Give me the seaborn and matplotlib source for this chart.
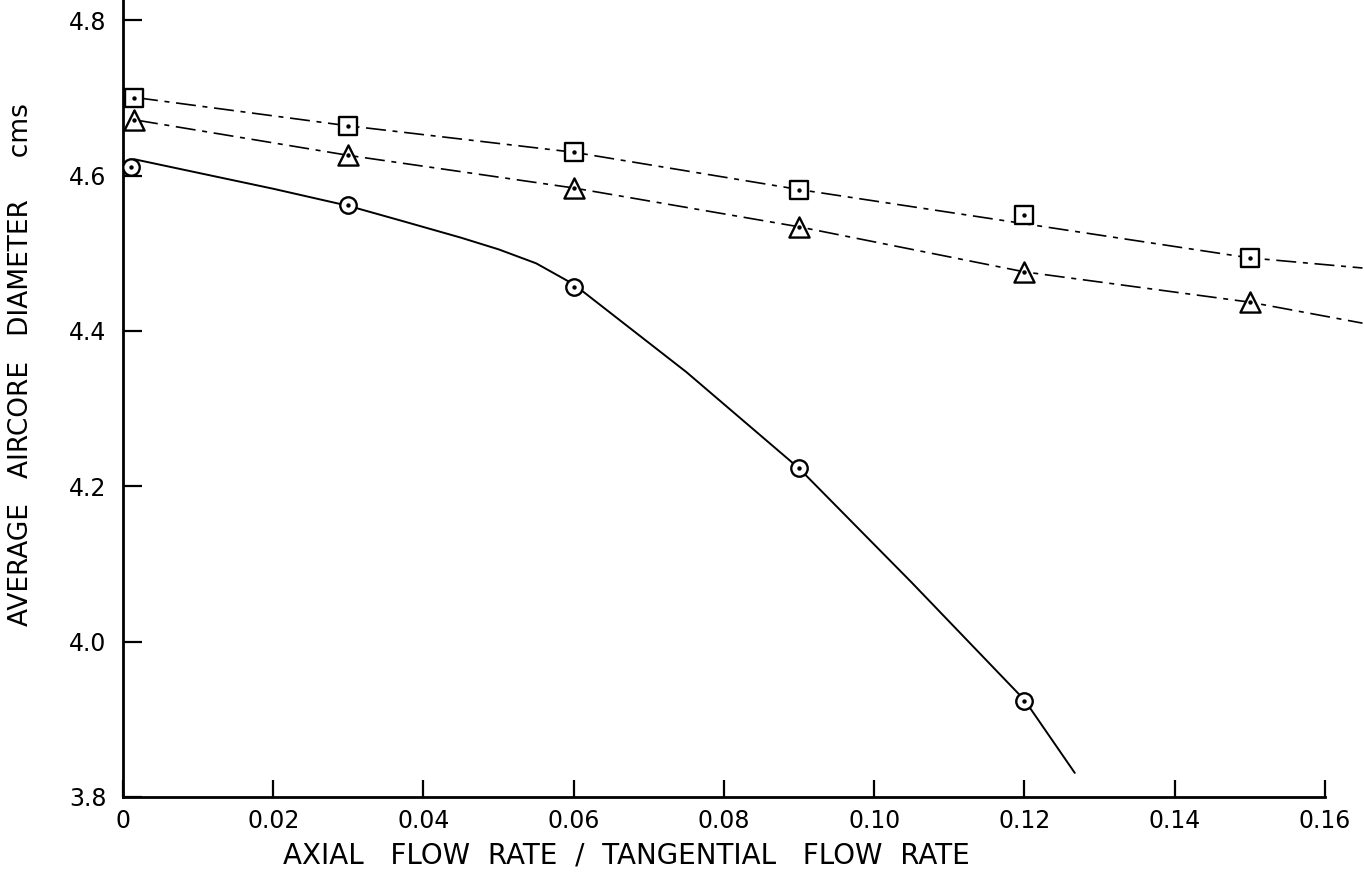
import matplotlib
matplotlib.use("Agg")
import matplotlib.pyplot as plt
import seaborn as sns
import pandas as pd

# measured points (x = axial / tangential flow rate, y = aircore diameter, cms)
sq_x = [0.0015, 0.03, 0.06, 0.09, 0.12, 0.15]
sq_y = [4.700, 4.664, 4.630, 4.581, 4.549, 4.494]
tri_x = [0.0015, 0.03, 0.06, 0.09, 0.12, 0.15]
tri_y = [4.671, 4.626, 4.584, 4.534, 4.476, 4.437]
circ_x = [0.001, 0.03, 0.06, 0.09, 0.12]
circ_y = [4.611, 4.562, 4.457, 4.223, 3.923]

# hand drawn curves
sq_curve_x = [0.002, 0.03, 0.06, 0.09, 0.12, 0.15, 0.165]
sq_curve_y = [4.700, 4.664, 4.630, 4.582, 4.538, 4.494, 4.481]
tri_curve_x = [0.002, 0.03, 0.06, 0.09, 0.12, 0.15, 0.165]
tri_curve_y = [4.671, 4.626, 4.584, 4.534, 4.476, 4.437, 4.410]
circ_curve_x = [0.0015, 0.02, 0.03, 0.037, 0.045, 0.050, 0.055, 0.060, 0.075, 0.09, 0.105, 0.12, 0.1267]
circ_curve_y = [4.621, 4.583, 4.561, 4.542, 4.520, 4.505, 4.487, 4.460, 4.347, 4.223, 4.076, 3.925, 3.831]

x_ticks = [0, 0.02, 0.04, 0.06, 0.08, 0.10, 0.12, 0.14, 0.16]
x_ticklabels = ['0', '0.02', '0.04', '0.06', '0.08', '0.10', '0.12', '0.14', '0.16']
y_ticks = [3.8, 4.0, 4.2, 4.4, 4.6, 4.8]
y_ticklabels = ['3.8', '4.0', '4.2', '4.4', '4.6', '4.8']

sns.set_style('white')
plt.rcParams['font.family'] = ['DejaVu Sans']

fig = plt.figure(figsize=(13.64, 8.82), dpi=100)
ax = fig.add_axes([123 / 1364, 1 - 797 / 882, (1364 - 123) / 1364, 797 / 882])

# curves
sns.lineplot(x=sq_curve_x, y=sq_curve_y, ax=ax, color='black', lw=1.2,
             sort=False, estimator=None)
ax.lines[-1].set_dashes((12, 4, 3, 4))
sns.lineplot(x=tri_curve_x, y=tri_curve_y, ax=ax, color='black', lw=1.2,
             sort=False, estimator=None)
ax.lines[-1].set_dashes((12, 4, 3, 4))
sns.lineplot(x=circ_curve_x, y=circ_curve_y, ax=ax, color='black', lw=1.4,
             sort=False, estimator=None)

# open markers with a centre dot
marker_sets = [(sq_x, sq_y, 's', 160), (tri_x, tri_y, '^', 210), (circ_x, circ_y, 'o', 140)]
for xs, ys, mk, size in marker_sets:
    df = pd.DataFrame({'x': xs, 'y': ys})
    sns.scatterplot(data=df, x='x', y='y', ax=ax, marker=mk, s=size,
                    facecolor='white', edgecolor='black', linewidth=1.7, zorder=3)
    sns.scatterplot(data=df, x='x', y='y', ax=ax, marker='o', s=10,
                    color='black', linewidth=0, zorder=4)

ax.set_xlim(0, 0.1652)
ax.set_ylim(3.8, 4.826)
ax.set_xticks(x_ticks)
ax.set_xticklabels(x_ticklabels)
ax.set_yticks(y_ticks)
ax.set_yticklabels(y_ticklabels)

for side in ['top', 'right']:
    ax.spines[side].set_visible(False)
for side in ['left', 'bottom']:
    ax.spines[side].set_linewidth(2)
    ax.spines[side].set_color('black')
ax.spines['bottom'].set_bounds(0, 0.16)

ax.tick_params(axis='x', bottom=True, direction='in', length=12, width=1.6, pad=9,
               labelsize=17, colors='black')
ax.tick_params(axis='y', left=True, direction='in', length=14, width=1.6, pad=12,
               labelsize=17, colors='black')

ax.set_xlabel('AXIAL   FLOW  RATE  /  TANGENTIAL   FLOW  RATE', fontsize=20, color='black')
ax.xaxis.set_label_coords(0.406, -0.056)
ax.set_ylabel('AVERAGE   AIRCORE   DIAMETER     cms', fontsize=19, color='black')
ax.yaxis.set_label_coords(-0.072, 0.543)

fig.savefig('out.png', dpi=100)
